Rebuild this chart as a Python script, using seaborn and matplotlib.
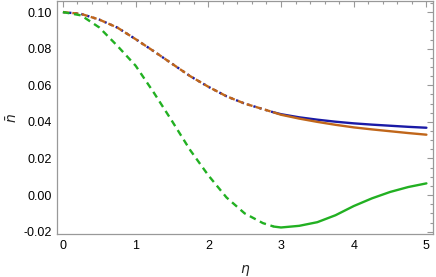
import numpy as np
import pandas as pd
import seaborn as sns
import matplotlib
matplotlib.use("Agg")
import matplotlib.pyplot as plt
from matplotlib.ticker import MultipleLocator, FormatStrFormatter

# values
eta = [0, 0.25, 0.5, 0.75, 1.0, 1.25, 1.5, 1.75, 2.0, 2.25, 2.5, 2.75, 2.9,
       3.0, 3.25, 3.5, 3.75, 4.0, 4.25, 4.5, 4.75, 5.0]
blue = [0.1000, 0.0990, 0.0959, 0.0915, 0.0852, 0.0786, 0.0718, 0.0650, 0.0592,
        0.0540, 0.0500, 0.0470, 0.0452,
        0.0442, 0.0425, 0.0412, 0.0401, 0.0392, 0.0385, 0.0379, 0.0373, 0.0368]
orange = [0.1000, 0.0990, 0.0959, 0.0915, 0.0852, 0.0786, 0.0718, 0.0650, 0.0592,
          0.0540, 0.0500, 0.0470, 0.0452,
          0.0439, 0.0418, 0.0400, 0.0384, 0.0370, 0.0359, 0.0349, 0.0339, 0.0330]
green = [0.1000, 0.0982, 0.0916, 0.0815, 0.0707, 0.0560, 0.0405, 0.0246, 0.0108,
         -0.0013, -0.0100, -0.0153, -0.0172,
         -0.0177, -0.0168, -0.0148, -0.0110, -0.0060, -0.0018, 0.0017, 0.0044, 0.0064]
split = 2.9

df = pd.DataFrame({"eta": eta, "blue": blue, "orange": orange, "green": green})
early = df[df["eta"] <= split]
late = df[df["eta"] >= split]

sns.set_style("white")
plt.rcParams["font.family"] = ["Liberation Sans", "DejaVu Sans"]
plt.rcParams["mathtext.fontset"] = "dejavusans"

fig = plt.figure(figsize=(4.36, 2.77), dpi=100)
ax = fig.add_axes([0.131, 0.155, 0.862, 0.841])

c_blue = "#1a1aa6"
c_orange = "#c0661a"
c_green = "#22b022"
lw = 1.7

# dashed part: blue dots showing through the gaps of the orange dashes
sns.lineplot(data=early, x="eta", y="blue", color=c_blue, lw=lw,
             linestyle=(2.6, (1.0, 1.6)), ax=ax)
sns.lineplot(data=early, x="eta", y="orange", color=c_orange, lw=lw,
             linestyle=(0, (2.6, 1.4)), ax=ax)
sns.lineplot(data=early, x="eta", y="green", color=c_green, lw=lw,
             linestyle=(0, (2.8, 2.0)), ax=ax)
# solid part
sns.lineplot(data=late, x="eta", y="blue", color=c_blue, lw=lw, ax=ax)
sns.lineplot(data=late, x="eta", y="orange", color=c_orange, lw=lw, ax=ax)
sns.lineplot(data=late, x="eta", y="green", color=c_green, lw=lw, ax=ax)

ax.set_xlim(-0.08, 5.09)
ax.set_ylim(-0.0213, 0.106)
ax.xaxis.set_major_locator(MultipleLocator(1))
ax.xaxis.set_minor_locator(MultipleLocator(0.2))
ax.yaxis.set_major_locator(MultipleLocator(0.02))
ax.yaxis.set_minor_locator(MultipleLocator(0.005))
ax.yaxis.set_major_formatter(FormatStrFormatter("%.2f"))

frame = "#999999"
for s in ax.spines.values():
    s.set_color(frame)
    s.set_linewidth(0.9)
ax.tick_params(which="both", direction="in", top=True, right=True,
               color=frame, width=0.8, labelsize=9, labelcolor="black")
ax.tick_params(which="major", length=4, pad=4)
ax.tick_params(which="minor", length=2.2)

ax.set_xlabel(r"$\eta$", fontsize=10, labelpad=8)
ax.set_ylabel(r"$\bar{n}$", fontsize=10, labelpad=2)

fig.savefig("out.png", dpi=100)
